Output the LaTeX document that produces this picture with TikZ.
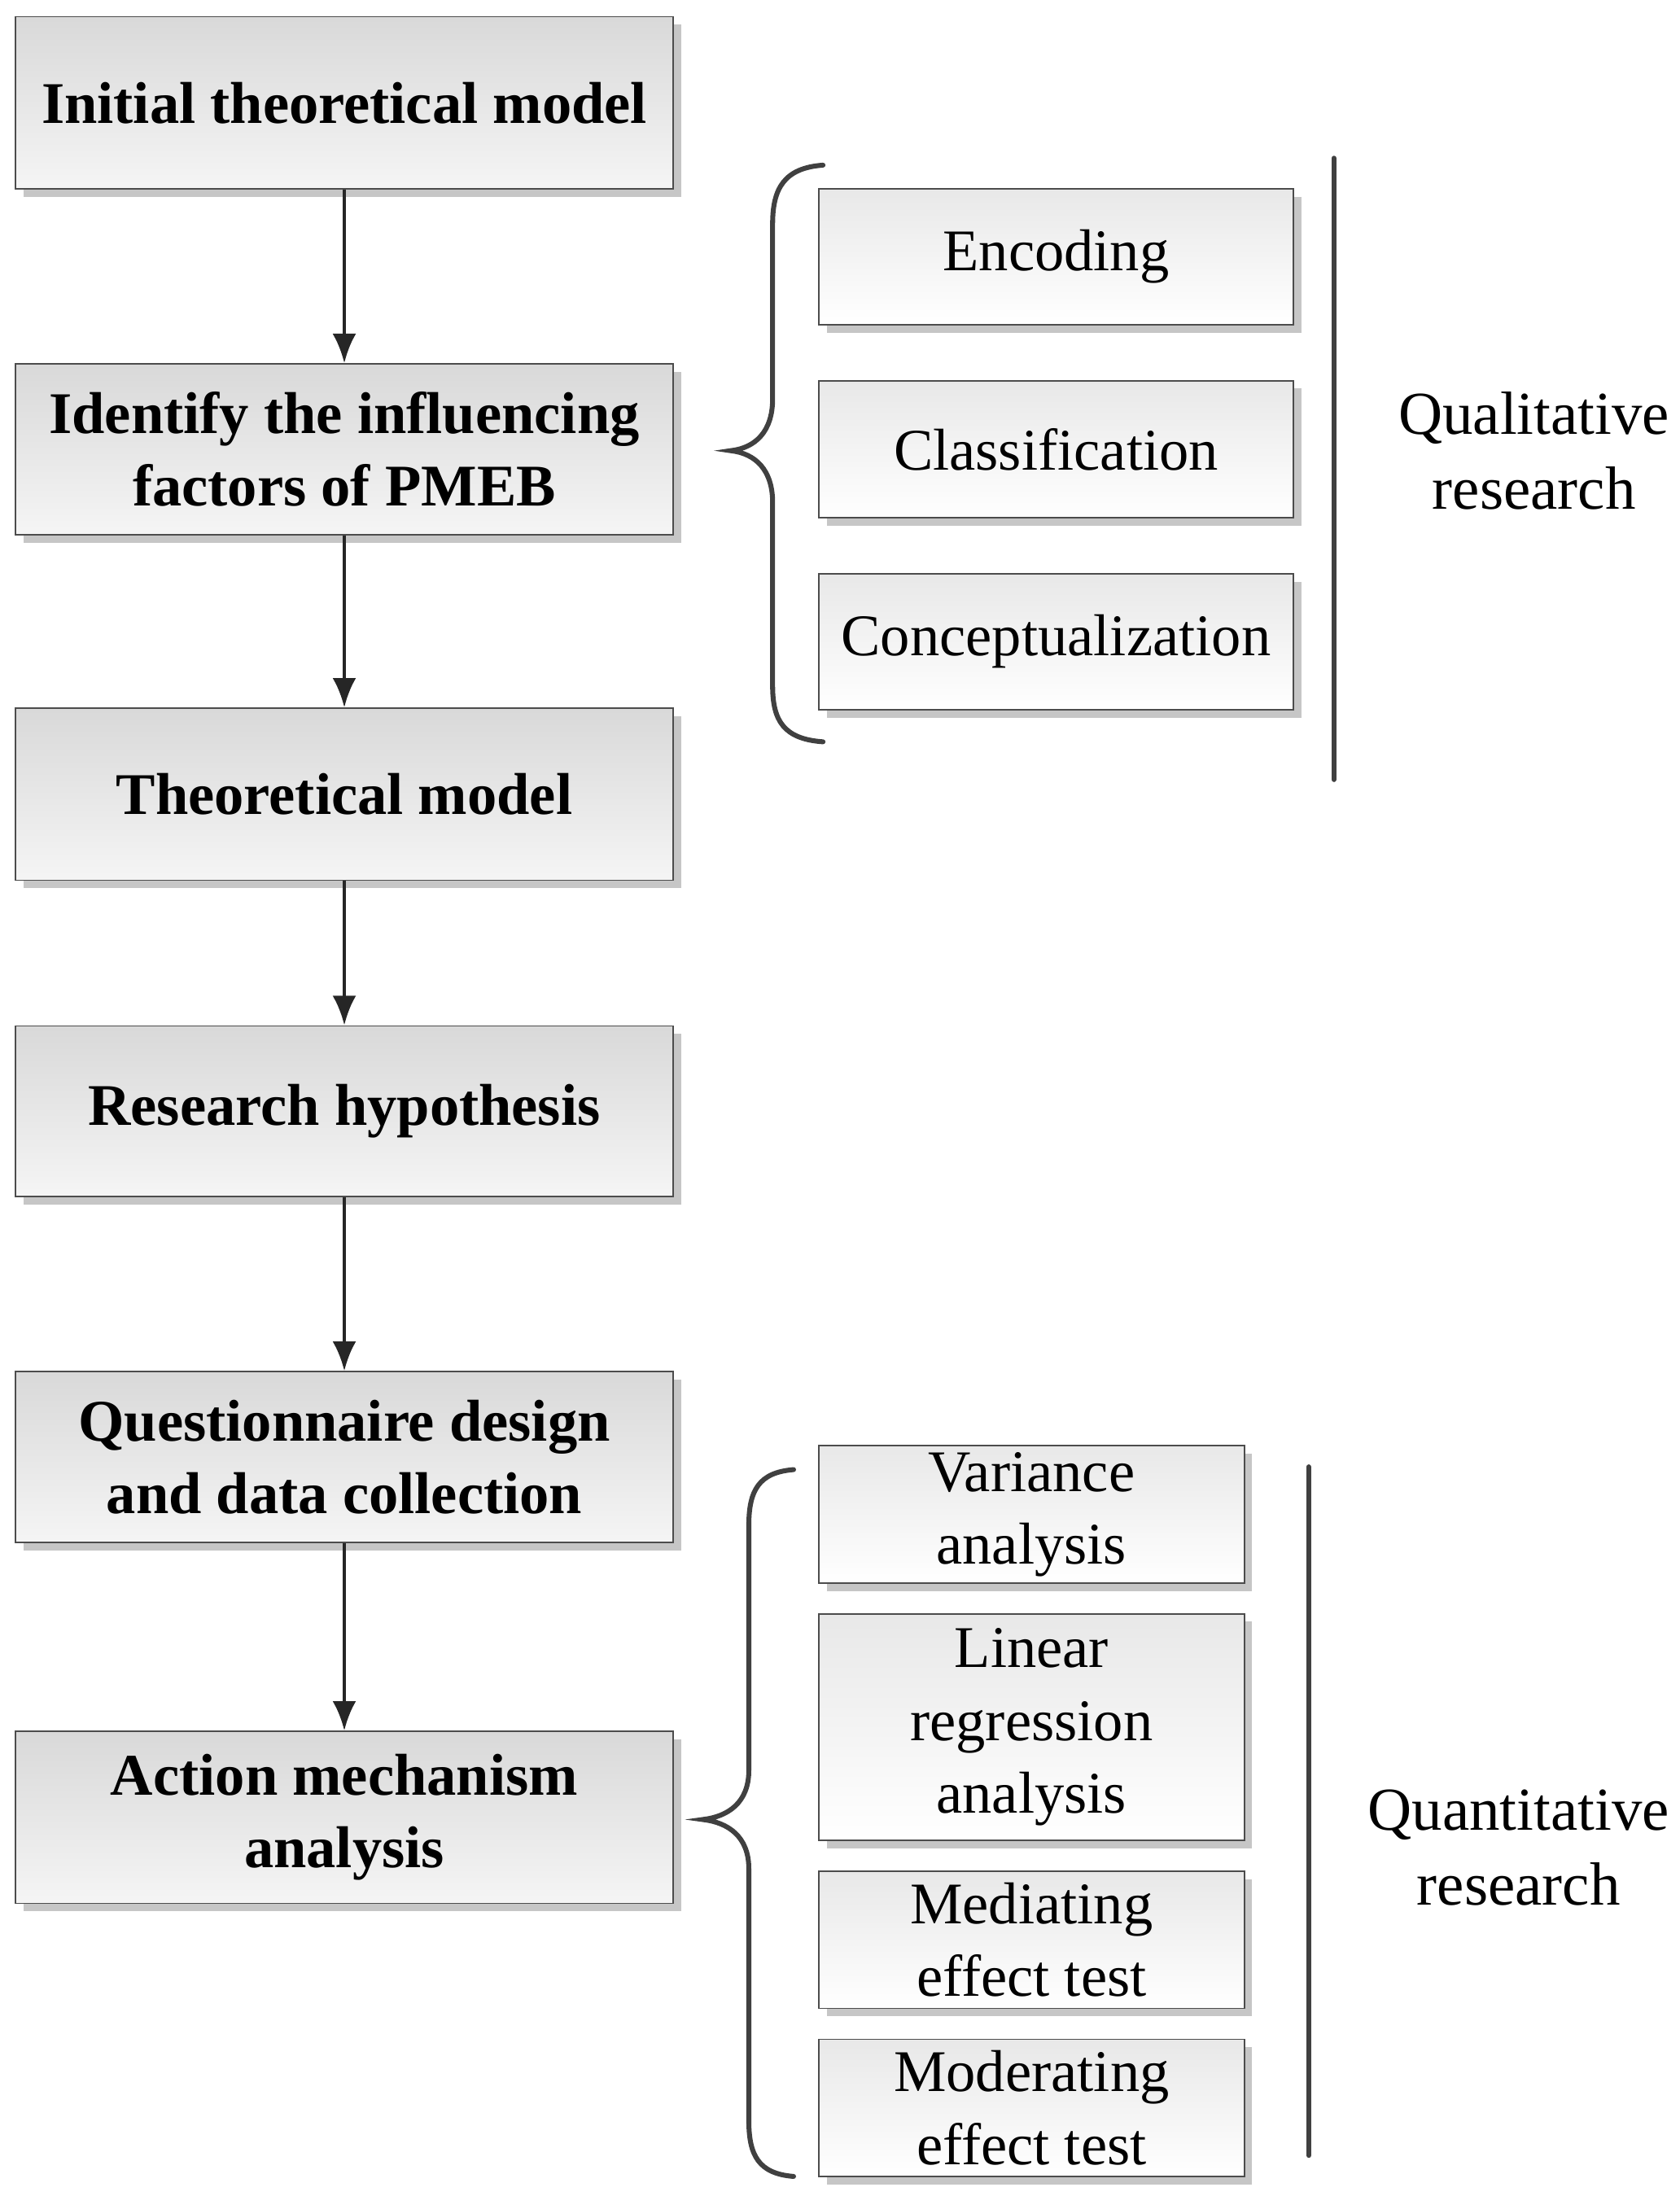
\documentclass[tikz,border=0pt]{standalone}
\usepackage{fontspec}
\setmainfont{Liberation Serif}
\usetikzlibrary{shadows,arrows.meta}
\begin{document}
\begin{tikzpicture}[x=0.05cm,y=-0.05cm,
 bx/.style={draw=black!70,line width=1.4pt,top color=gray!30,bottom color=gray!8,inner sep=0pt,align=center,
   font=\fontsize{60}{74}\selectfont,
   general shadow={fill=gray!45,shadow xshift=8pt,shadow yshift=-8pt}},
 lb/.style={bx,font=\fontsize{60}{74}\selectfont\bfseries},
 sb/.style={bx,top color=gray!18,bottom color=white},
 ar/.style={-{Latex[length=30pt,width=24pt]},line width=3.8pt,draw=black!85},
 br/.style={draw=black!75,line width=5pt,line cap=round},
 tx/.style={align=center,font=\fontsize{62}{76}\selectfont}]
\useasboundingbox (0,0) rectangle (1200,1569);
% left boxes
\node[lb,minimum width=470*0.05cm,minimum height=123*0.05cm] (a) at (246,73.5) {Initial theoretical model};
\node[lb,minimum width=470*0.05cm,minimum height=122*0.05cm] (b) at (246,321) {Identify the influencing\\factors of PMEB};
\node[lb,minimum width=470*0.05cm,minimum height=123*0.05cm] (c) at (246,567.5) {Theoretical model};
\node[lb,minimum width=470*0.05cm,minimum height=122*0.05cm] (d) at (246,794) {Research hypothesis};
\node[lb,minimum width=470*0.05cm,minimum height=122*0.05cm] (e) at (246,1041) {Questionnaire design\\and data collection};
\node[lb,minimum width=470*0.05cm,minimum height=123*0.05cm] (f) at (246,1298.5) {Action mechanism\\analysis};
\draw[ar] (a) -- (b);
\draw[ar] (b) -- (c);
\draw[ar] (c) -- (d);
\draw[ar] (d) -- (e);
\draw[ar] (e) -- (f);
% top right boxes
\node[sb,minimum width=339*0.05cm,minimum height=97*0.05cm] (q1) at (754.5,183.5) {Encoding};
\node[sb,minimum width=339*0.05cm,minimum height=98*0.05cm] (q2) at (754.5,321) {Classification};
\node[sb,minimum width=339*0.05cm,minimum height=97*0.05cm] (q3) at (754.5,458.5) {Conceptualization};
% bottom right boxes
\node[sb,minimum width=304*0.05cm,minimum height=98*0.05cm] (r1) at (737,1082) {Variance\\analysis};
\node[sb,minimum width=304*0.05cm,minimum height=162*0.05cm] (r2) at (737,1234) {Linear\\regression\\analysis};
\node[sb,minimum width=304*0.05cm,minimum height=98*0.05cm] (r3) at (737,1386) {Mediating\\effect test};
\node[sb,minimum width=304*0.05cm,minimum height=98*0.05cm] (r4) at (737,1506) {Moderating\\effect test};
% braces
\draw[br] (588,118) .. controls (560,120) and (552,135) .. (552,160) -- (552,285)
  .. controls (552,308) and (540,320) .. (522,322) .. controls (540,324) and (552,336) .. (552,359)
  -- (552,490) .. controls (552,515) and (560,528) .. (588,530);
\draw[br] (567,1050) .. controls (542,1052) and (535,1065) .. (535,1090) -- (535,1265)
  .. controls (535,1288) and (520,1298) .. (502,1300) .. controls (520,1302) and (535,1312) .. (535,1335)
  -- (535,1515) .. controls (535,1540) and (542,1553) .. (567,1555);
% vertical lines
\coordinate (v1) at (953,113); \coordinate (v2) at (953,557);
\coordinate (w1) at (935,1048); \coordinate (w2) at (935,1540);
\draw[br] (v1) -- (v2);
\draw[br] (w1) -- (w2);
\node[tx] (ql) at (1096,322) {Qualitative\\research};
\node[tx] (qn) at (1085,1320) {Quantitative\\research};
\end{tikzpicture}
\end{document}
